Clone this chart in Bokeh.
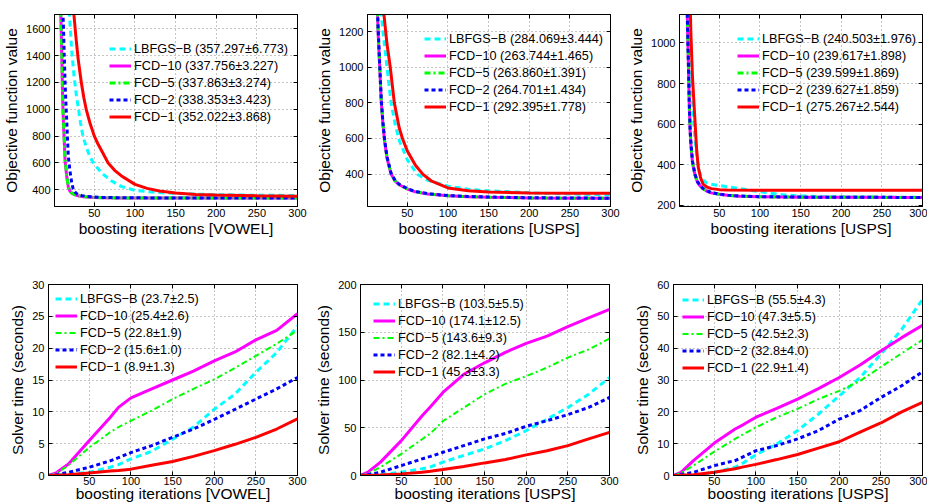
from bokeh.plotting import figure
from bokeh.models import Range1d, Legend, LegendItem, FixedTicker, LinearAxis
from bokeh.layouts import row, column
from bokeh.embed import file_html
from bokeh.resources import INLINE

# ---------------- series meta ----------------
names = ["LBFGS−B", "FCD−10", "FCD−5", "FCD−2", "FCD−1"]
colors = ["#00ffff", "#ff00ff", "#00ff00", "#0000ff", "#ff0000"]
dashes = ["6 4", "solid", "6 3 2 3", "4 3", "solid"]

x_ticks = [50, 100, 150, 200, 250, 300]

# ---------------- panel 1: objective, VOWEL ----------------
vo_lbfgs_x = [1, 10, 15, 19, 20, 22, 25, 28, 30, 33, 36, 40, 45, 50, 60, 70, 83, 100, 125, 150, 200, 250, 300]
vo_lbfgs_y = [8000, 4000, 2400, 1750, 1650, 1450, 1250, 1100, 1020, 900, 800, 720, 640, 590, 520, 470, 425, 395, 380, 372, 363, 359, 357.3]
vo_fcd10_x = [1, 5, 8, 9, 10, 11, 12, 13, 14, 16, 18, 20, 22, 25, 28, 30, 35, 40, 50, 60, 80, 100, 150, 200, 300]
vo_fcd10_y = [8000, 4000, 1850, 1650, 1380, 1080, 900, 760, 620, 500, 420, 390, 375, 365, 358, 355, 350, 346, 342, 340, 339, 338.5, 338, 337.9, 337.76]
vo_fcd5_x = vo_fcd10_x
vo_fcd5_y = [8000, 4000, 1900, 1680, 1400, 1100, 910, 770, 630, 505, 423, 392, 377, 366, 359, 356, 351, 347, 343, 341, 339.2, 338.6, 338.1, 337.95, 337.86]
vo_fcd2_x = [1, 5, 8, 10, 11, 12, 13, 14, 15, 16, 17, 18, 20, 22, 24, 26, 28, 30, 35, 40, 50, 60, 80, 100, 150, 200, 300]
vo_fcd2_y = [8000, 4500, 2600, 2000, 1780, 1620, 1400, 1200, 1050, 920, 780, 650, 540, 460, 405, 385, 372, 365, 356, 351, 346, 343, 340.5, 339.5, 338.8, 338.5, 338.35]
vo_fcd1_x = [1, 10, 15, 20, 24, 25, 27, 30, 34, 37, 40, 45, 50, 55, 60, 67, 75, 83, 100, 115, 130, 150, 175, 200, 250, 300]
vo_fcd1_y = [8000, 4500, 3000, 2100, 1780, 1700, 1560, 1380, 1200, 1090, 1000, 890, 800, 735, 680, 600, 545, 505, 440, 410, 390, 375, 365, 360, 355, 352]

# ---------------- panel 2: objective, USPS ----------------
uo_lbfgs_x = [1, 10, 15, 18, 20, 25, 30, 35, 40, 50, 62, 75, 100, 125, 150, 200, 250, 300]
uo_lbfgs_y = [8000, 2600, 1600, 1300, 1200, 1000, 800, 680, 590, 480, 400, 365, 332, 315, 306, 295, 288, 284.07]
uo_fcd_x = [1, 5, 10, 12, 14, 16, 18, 20, 22, 25, 30, 35, 40, 50, 60, 75, 100, 125, 150, 200, 250, 300]
uo_fcd10_y = [8000, 4000, 1900, 1500, 1200, 1000, 800, 680, 585, 490, 400, 360, 340, 316, 300, 288, 278, 273, 270, 266, 264.5, 263.74]
uo_fcd5_y = [8000, 4000, 1920, 1510, 1210, 1005, 805, 685, 590, 493, 402, 362, 341, 317, 301, 289, 278.5, 273.5, 270.3, 266.2, 264.6, 263.86]
uo_fcd2_y = [8000, 4100, 1950, 1530, 1230, 1020, 815, 690, 595, 497, 405, 364, 343, 318, 302, 290, 279.5, 274.3, 271.2, 267.1, 265.5, 264.7]
uo_fcd1_x = [1, 10, 15, 20, 25, 29, 34, 40, 44, 50, 60, 69, 80, 100, 125, 150, 200, 250, 300]
uo_fcd1_y = [8000, 3000, 1900, 1350, 1130, 1000, 800, 660, 600, 530, 450, 400, 360, 322, 306, 299, 294, 293, 292.4]

# ---------------- panel 3: objective, USPS (second) ----------------
u2o_lbfgs_x = [1, 5, 10, 13, 14, 16, 18, 20, 23, 26, 30, 35, 40, 50, 60, 75, 90, 110, 130, 150, 175, 200, 250, 300]
u2o_lbfgs_y = [8000, 4500, 1800, 1180, 1050, 800, 640, 530, 420, 360, 325, 310, 305, 298, 292, 283, 274, 262, 252, 247, 244, 242.5, 241, 240.5]
u2o_fcd_x = [1, 5, 8, 10, 11, 12, 13, 14, 15, 17, 20, 23, 26, 30, 35, 40, 50, 60, 75, 100, 150, 200, 300]
u2o_fcd10_y = [8000, 3500, 1800, 1250, 1050, 880, 700, 570, 500, 410, 350, 315, 298, 282, 270, 262, 255, 250, 246, 243, 241, 240.3, 239.62]
u2o_fcd5_y = [8000, 3500, 1810, 1260, 1055, 885, 705, 575, 503, 412, 351, 316, 299, 283, 271, 263, 255.5, 250.3, 246.2, 243.1, 241, 240.2, 239.6]
u2o_fcd2_y = [8000, 3600, 1850, 1280, 1070, 900, 715, 585, 510, 418, 355, 319, 301, 284, 272, 264, 256, 251, 246.5, 243.3, 241.2, 240.4, 239.63]
u2o_fcd1_x = [1, 5, 10, 14, 15, 17, 20, 22, 24, 27, 30, 35, 40, 50, 60, 100, 300]
u2o_fcd1_y = [8000, 4000, 2000, 1220, 1050, 830, 620, 480, 390, 335, 305, 290, 283, 278, 276, 275.5, 275.27]

# ---------------- bottom panels: solver time ----------------
t_x = [1, 10, 25, 50, 75, 85, 100, 125, 150, 175, 200, 225, 250, 275, 300]
vt_lbfgs = [0, 0.05, 0.2, 0.5, 1.3, 1.7, 2.6, 3.8, 5.7, 7.6, 10.4, 12.8, 16.2, 19.3, 23.5]
vt_fcd10 = [0, 0.4, 1.8, 5.5, 9.1, 10.7, 12.2, 13.6, 15.0, 16.4, 18.0, 19.4, 21.3, 22.8, 25.4]
vt_fcd5 = [0, 0.3, 1.6, 4.4, 6.8, 7.6, 8.6, 10.2, 12.0, 13.6, 15.1, 16.9, 18.8, 20.7, 22.8]
vt_fcd2 = [0, 0.1, 0.5, 1.3, 2.3, 2.8, 3.6, 4.7, 6.0, 7.3, 8.8, 10.4, 12.0, 13.6, 15.4]
vt_fcd1 = [0, 0.02, 0.1, 0.4, 0.7, 0.8, 1.0, 1.6, 2.2, 3.0, 3.9, 4.9, 6.0, 7.3, 8.9]

ut_lbfgs = [0, 0.2, 1, 3.5, 7, 9, 14, 21, 27.8, 36.5, 47, 59, 71.3, 85, 102.6]
ut_fcd10 = [0, 3.5, 14, 36.5, 62.6, 72, 87, 106, 118, 129, 138.4, 146, 156, 165, 174]
ut_fcd5 = [0, 2, 8.7, 22.6, 38, 44, 57, 71, 85, 96, 104, 113, 123.5, 132, 143.3]
ut_fcd2 = [0, 0.8, 3.5, 10.4, 17.4, 20, 24.3, 31.3, 38.3, 44, 51.5, 57.4, 63.7, 71.3, 81.7]
ut_fcd1 = [0, 0.1, 0.5, 1.7, 3.5, 4.5, 6.3, 9.4, 13.2, 16.7, 21.6, 26, 31.3, 38.3, 45.2]

u2t_lbfgs = [0, 0.05, 0.2, 1, 2.6, 4, 6.5, 9.9, 14.1, 19.3, 25, 30.8, 38.1, 45.9, 55.3]
u2t_fcd10 = [0, 1, 4.7, 10.2, 14.6, 16, 18.3, 21.1, 24, 27.3, 30.8, 34.7, 39.1, 43.3, 47.2]
u2t_fcd5 = [0, 0.8, 3.1, 7.5, 11.5, 13, 15.1, 18.3, 20.9, 24, 26.6, 29.7, 34.1, 38.4, 42.6]
u2t_fcd2 = [0, 0.3, 1, 3.1, 4.7, 5.9, 7.8, 9.4, 11.5, 14.1, 17.7, 20.4, 24.5, 28.2, 32.6]
u2t_fcd1 = [0, 0.05, 0.2, 1, 2.1, 2.7, 3.5, 5, 6.6, 8.6, 10.6, 13.6, 16.5, 20, 23]

# ---------------- legend texts ----------------
leg1 = ["(357.297±6.773)", "(337.756±3.227)", "(337.863±3.274)", "(338.353±3.423)", "(352.022±3.868)"]
leg2 = ["(284.069±3.444)", "(263.744±1.465)", "(263.860±1.391)", "(264.701±1.434)", "(292.395±1.778)"]
leg3 = ["(240.503±1.976)", "(239.617±1.898)", "(239.599±1.869)", "(239.627±1.859)", "(275.267±2.544)"]
leg4 = ["(23.7±2.5)", "(25.4±2.6)", "(22.8±1.9)", "(15.6±1.0)", "(8.9±1.3)"]
leg5 = ["(103.5±5.5)", "(174.1±12.5)", "(143.6±9.3)", "(82.1±4.2)", "(45.3±3.3)"]
leg6 = ["(55.5±4.3)", "(47.3±5.5)", "(42.5±2.3)", "(32.8±4.0)", "(22.9±1.4)"]

FONT = "Liberation Sans"


def box_axis(ticks):
    ax = LinearAxis(ticker=FixedTicker(ticks=ticks), axis_label=None)
    ax.major_tick_in = 4
    ax.major_tick_out = 0
    ax.minor_tick_line_color = None
    ax.major_label_standoff = 0
    ax.major_label_text_font_size = "0px"
    ax.major_label_text_alpha = 0
    ax.axis_line_color = "black"
    ax.major_tick_line_color = "black"
    return ax


def make_panel(width, height, bl, br, bt, bb, yr, yticks, series, legtxt, legloc,
               xlabel, ylabel, green_w, xl_standoff, xt_standoff):
    p = figure(width=width, height=height, x_range=Range1d(1, 300), y_range=Range1d(*yr),
               output_backend="svg", toolbar_location=None,
               min_border_left=bl, min_border_right=br, min_border_top=bt, min_border_bottom=bb)
    p.background_fill_color = "white"
    p.border_fill_color = "white"
    p.outline_line_color = "black"
    p.outline_line_width = 1
    p.xaxis.ticker = FixedTicker(ticks=x_ticks)
    p.yaxis.ticker = FixedTicker(ticks=yticks)
    p.xaxis.axis_label = xlabel
    p.yaxis.axis_label = ylabel
    for ax in (p.xaxis[0], p.yaxis[0]):
        ax.major_tick_in = 4
        ax.major_tick_out = 0
        ax.minor_tick_line_color = None
        ax.axis_line_color = "black"
        ax.major_tick_line_color = "black"
        ax.major_label_text_font = FONT
        ax.major_label_text_font_size = "11px"
        ax.major_label_text_color = "black"
        ax.axis_label_text_font = FONT
        ax.axis_label_text_font_size = "15.5px"
        ax.axis_label_text_font_style = "normal"
        ax.axis_label_text_color = "black"
    p.xaxis.major_label_standoff = xt_standoff
    p.xaxis.axis_label_standoff = xl_standoff
    p.yaxis.major_label_standoff = 4
    p.yaxis.axis_label_standoff = 3
    p.grid.grid_line_color = "#808080"
    p.grid.grid_line_dash = "1 3"
    p.grid.grid_line_alpha = 0.9
    # MATLAB-style box ticks on the top and right sides
    p.add_layout(box_axis(x_ticks), "above")
    p.add_layout(box_axis(yticks), "right")

    items = []
    for i, (xs, ys) in enumerate(series):
        lw = green_w if i == 2 else 3
        r = p.line(xs, ys, line_color=colors[i], line_width=lw, line_dash=dashes[i])
        items.append(LegendItem(label=f"{names[i]} {legtxt[i]}", renderers=[r]))
    leg = Legend(items=items, location=legloc, orientation="vertical")
    leg.border_line_alpha = 0
    leg.background_fill_alpha = 0
    leg.padding = 0
    leg.margin = 0
    leg.spacing = 0
    leg.glyph_width = 22
    leg.glyph_height = 17
    leg.label_height = 17
    leg.label_standoff = 3
    leg.label_text_font = FONT
    leg.label_text_font_size = "12.7px"
    leg.label_text_color = "black"
    p.add_layout(leg)
    return p


p1 = make_panel(310, 252, 53, 13, 14, 46, (275, 1707), [400, 600, 800, 1000, 1200, 1400, 1600],
                [(vo_lbfgs_x, vo_lbfgs_y), (vo_fcd10_x, vo_fcd10_y), (vo_fcd5_x, vo_fcd5_y),
                 (vo_fcd2_x, vo_fcd2_y), (vo_fcd1_x, vo_fcd1_y)],
                leg1, (55, 81), "boosting iterations [VOWEL]", "Objective function value", 3, 0, 2)
p2 = make_panel(310, 252, 57, 10, 14, 46, (218, 1296), [400, 600, 800, 1000, 1200],
                [(uo_lbfgs_x, uo_lbfgs_y), (uo_fcd_x, uo_fcd10_y), (uo_fcd_x, uo_fcd5_y),
                 (uo_fcd_x, uo_fcd2_y), (uo_fcd1_x, uo_fcd1_y)],
                leg2, (57, 91), "boosting iterations [USPS]", "Objective function value", 3, 0, 2)
p3 = make_panel(307, 252, 59, 5, 14, 46, (195, 1140), [200, 400, 600, 800, 1000],
                [(u2o_lbfgs_x, u2o_lbfgs_y), (u2o_fcd_x, u2o_fcd10_y), (u2o_fcd_x, u2o_fcd5_y),
                 (u2o_fcd_x, u2o_fcd2_y), (u2o_fcd1_x, u2o_fcd1_y)],
                leg3, (58, 91), "boosting iterations [USPS]", "Objective function value", 3, 0, 2)

p4 = make_panel(310, 252, 48, 13, 32, 29, (0, 30), [0, 5, 10, 15, 20, 25, 30],
                [(t_x, vt_lbfgs), (t_x, vt_fcd10), (t_x, vt_fcd5), (t_x, vt_fcd2), (t_x, vt_fcd1)],
                leg4, (7, 100), "boosting iterations [VOWEL]", "Solver time (seconds)", 2, -3, 1)
p5 = make_panel(310, 252, 50, 11, 32, 29, (0, 200), [0, 50, 100, 150, 200],
                [(t_x, ut_lbfgs), (t_x, ut_fcd10), (t_x, ut_fcd5), (t_x, ut_fcd2), (t_x, ut_fcd1)],
                leg5, (13, 95), "boosting iterations [USPS]", "Solver time (seconds)", 2, -3, 1)
p6 = make_panel(307, 252, 53, 5, 32, 29, (0, 60), [0, 10, 20, 30, 40, 50, 60],
                [(t_x, u2t_lbfgs), (t_x, u2t_fcd10), (t_x, u2t_fcd5), (t_x, u2t_fcd2), (t_x, u2t_fcd1)],
                leg6, (9, 99), "boosting iterations [USPS]", "Solver time (seconds)", 2, -3, 1)

layout = column(row(p1, p2, p3), row(p4, p5, p6))
open("out.html", "w").write(file_html(layout, INLINE))
